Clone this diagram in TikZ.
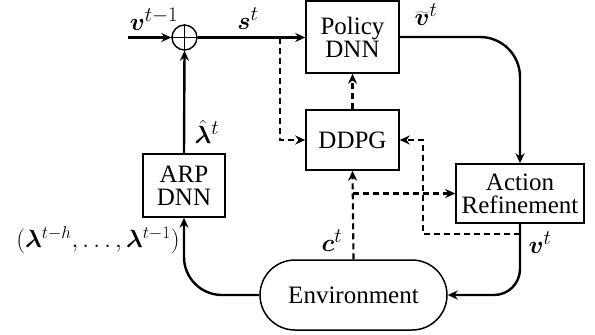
\documentclass[tikz,border=0pt]{standalone}
\usepackage{bm}
\usepackage{fontspec}
\setmainfont{Liberation Serif}
\usetikzlibrary{arrows.meta}
\begin{document}
\begin{tikzpicture}[x=1pt,y=-1pt,
  box/.style={draw,line width=1.5pt,inner sep=0pt,align=center,font=\fontsize{25}{26}\selectfont},
  lbl/.style={inner sep=0pt,font=\fontsize{28}{29}\selectfont},
  sol/.style={line width=2.4pt,-{Stealth[length=10pt,width=9pt]}},
  das/.style={line width=2.1pt,dash pattern=on 6pt off 4pt,-{Stealth[length=10pt,width=9pt]}}]
\useasboundingbox (0,0) rectangle (595,335);
\node[draw,circle,line width=1.4pt,minimum size=25pt,inner sep=0pt] (sum) at (184.5,37.5) {};
\draw[line width=1.1pt] (sum.north) -- (sum.south) (sum.west) -- (sum.east);
\coordinate (in) at (128,37.5);
\node[box,minimum width=93pt,minimum height=72pt] (pol) at (352.5,37) {Policy\\[-3pt]DNN};
\node[box,minimum width=93pt,minimum height=60pt] (ddpg) at (352.5,140) {DDPG};
\node[box,minimum width=128pt,minimum height=59pt] (ar) at (520,193.5) {Action\\[-3pt]Refinement};
\node[box,minimum width=82pt,minimum height=63pt] (arp) at (184,185.5) {ARP\\[-3pt]DNN};
\node[box,minimum width=187pt,minimum height=70pt,rounded corners=35pt] (env) at (353.5,295) {Environment};
\coordinate (br) at (280,37.5);
\coordinate (cb) at (352.5,193.5);
\coordinate (vb) at (520,234);
% solid connectors
\draw[sol] (in) -- (sum.west);
\draw[sol] (sum.east) -- (pol.west |- sum.east);
\draw[sol,rounded corners=40pt] (pol.east |- 0,37) -- (520,37) -- (ar.north);
\draw[sol,rounded corners=26pt] (ar.south) -- (520,295) -- (env.east);
\draw[sol,rounded corners=38pt] (env.west) -- (184,295) -- (arp.south);
\draw[sol] (arp.north) -- (sum.south);
% dashed connectors
\draw[das] (br) -- (280,140) -- (ddpg.west);
\draw[das] (ddpg.north) -- (pol.south);
\draw[das] (env.north) -- (ddpg.south);
\draw[das] (cb) -- (ar.west |- cb);
\draw[das] (vb) -- (423,234) -- (423,140) -- (ddpg.east);
% labels
\node[lbl] (l1) at (154,19) {$\bm{v}^{t-1}$};
\node[lbl] (l2) at (248,19) {$\bm{s}^{t}$};
\node[lbl] (l3) at (426,15) {$\widetilde{\bm{v}}^{t}$};
\node[lbl] (l4) at (207,132) {$\hat{\bm{\lambda}}^{t}$};
\node[lbl,font=\fontsize{26}{27}\selectfont] (l5) at (98,240) {$(\bm{\lambda}^{t-h},\ldots,\bm{\lambda}^{t-1})$};
\node[lbl] (l6) at (332,241) {$\bm{c}^{t}$};
\node[lbl] (l7) at (540,243) {$\bm{v}^{t}$};
\end{tikzpicture}
\end{document}
